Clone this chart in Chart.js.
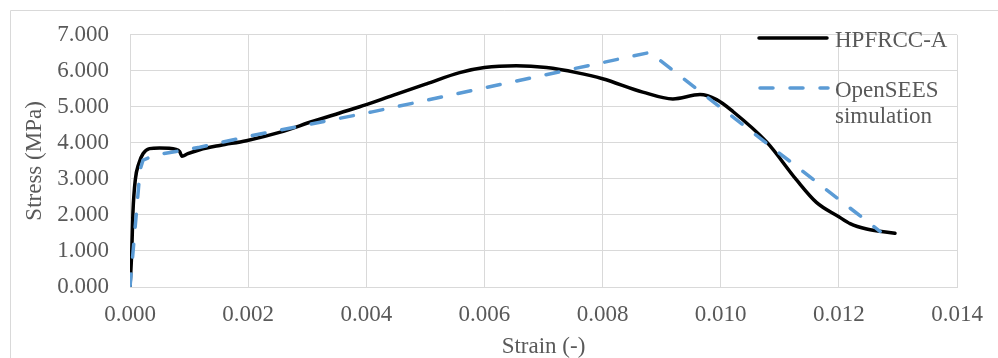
<!DOCTYPE html>
<html>
<head>
<meta charset="utf-8">
<script src="https://cdn.jsdelivr.net/npm/chart.js@4/dist/chart.umd.min.js"></script>
<style>
  html, body { margin: 0; padding: 0; background: #ffffff; }
  #wrap { width: 998px; height: 358px; position: relative; }
</style>
</head>
<body>
<div id="wrap"><canvas id="c" width="998" height="358"></canvas></div>
<script>
// ---- Data ----
const seriesNames = ["HPFRCC-A", "OpenSEES simulation"];

const testStrain = [0, 0.00003, 0.00005, 0.00009, 0.00015, 0.00022, 0.00033, 0.0005, 0.00078, 0.00084,
  0.00088, 0.00098, 0.00118, 0.00152, 0.00197, 0.00253, 0.0031, 0.00355, 0.0040, 0.00445,
  0.00502, 0.00558, 0.0060, 0.00654, 0.00705, 0.00756, 0.0080, 0.00868, 0.00919, 0.00965,
  0.00993, 0.0102, 0.01078, 0.01128, 0.01162, 0.012, 0.01219, 0.01247, 0.01295];
const testStress = [0, 1.0, 2.08, 2.98, 3.43, 3.70, 3.84, 3.86, 3.82, 3.76,
  3.63, 3.70, 3.81, 3.93, 4.06, 4.29, 4.60, 4.83, 5.06, 5.32,
  5.64, 5.95, 6.09, 6.14, 6.09, 5.95, 5.78, 5.41, 5.22, 5.34,
  5.20, 4.88, 4.02, 2.98, 2.35, 1.95, 1.76, 1.61, 1.49];

const simStrain = [0, 0.0001, 0.00017, 0.00022, 0.00042, 0.00078, 0.00118, 0.002, 0.0041, 0.0088, 0.0127];
const simStress = [0, 1.9, 3.25, 3.52, 3.66, 3.76, 3.88, 4.18, 4.86, 6.51, 1.54];

const xTicks = [0, 0.002, 0.004, 0.006, 0.008, 0.010, 0.012, 0.014];
const yTicks = [0, 1, 2, 3, 4, 5, 6, 7];

const xTitle = "Strain (-)";
const yTitle = "Stress (MPa)";

// ---- Chart ----
const TEXT = "#595959";
const GRID = "#d9d9d9";
const FONT = "'Liberation Serif', 'Times New Roman', serif";

const toPts = (xs, ys) => xs.map((x, i) => ({ x: x, y: ys[i] }));

const frame = {
  id: 'frame',
  beforeDraw(chart) {
    const ctx = chart.ctx;
    ctx.save();
    ctx.strokeStyle = GRID;
    ctx.lineWidth = 1;
    ctx.beginPath();
    ctx.moveTo(10.5, 358);
    ctx.lineTo(10.5, 10.5);
    ctx.lineTo(998, 10.5);
    ctx.stroke();
    ctx.restore();
  }
};

const legendPlugin = {
  id: 'customLegend',
  afterDraw(chart) {
    const ctx = chart.ctx;
    const ds = chart.data.datasets;
    ctx.save();
    ctx.lineCap = 'round';
    ctx.strokeStyle = ds[0].borderColor;
    ctx.lineWidth = ds[0].borderWidth;
    ctx.setLineDash([]);
    ctx.beginPath(); ctx.moveTo(759, 38); ctx.lineTo(827, 38); ctx.stroke();
    ctx.strokeStyle = ds[1].borderColor;
    ctx.lineWidth = ds[1].borderWidth;
    ctx.setLineDash(ds[1].borderDash);
    ctx.beginPath(); ctx.moveTo(760, 88); ctx.lineTo(828, 88); ctx.stroke();
    ctx.setLineDash([]);
    ctx.fillStyle = TEXT;
    ctx.font = "23px " + FONT;
    ctx.textAlign = 'left';
    ctx.textBaseline = 'alphabetic';
    ctx.fillText(ds[0].label, 835, 46.5);
    const parts = ds[1].label.split(' ');
    ctx.fillText(parts[0], 835, 96.5);
    ctx.fillText(parts.slice(1).join(' '), 835, 123);
    ctx.restore();
  }
};

new Chart(document.getElementById('c'), {
  type: 'scatter',
  data: {
    datasets: [
      {
        label: seriesNames[0],
        data: toPts(testStrain, testStress),
        showLine: true,
        borderColor: '#000000',
        backgroundColor: '#000000',
        borderWidth: 3.5,
        borderCapStyle: 'round',
        borderJoinStyle: 'round',
        pointRadius: 0,
        cubicInterpolationMode: 'monotone',
        order: 2
      },
      {
        label: seriesNames[1],
        data: toPts(simStrain, simStress),
        showLine: true,
        borderColor: '#5b9bd5',
        backgroundColor: '#5b9bd5',
        borderWidth: 3.5,
        borderDash: [13, 17],
        borderCapStyle: 'round',
        pointRadius: 0,
        tension: 0,
        order: 1
      }
    ]
  },
  options: {
    responsive: false,
    animation: false,
    devicePixelRatio: 1,
    layout: { padding: { left: 0, top: 28, right: 41, bottom: 0 } },
    plugins: {
      legend: { display: false },
      tooltip: { enabled: false },
      title: { display: false }
    },
    scales: {
      x: {
        type: 'linear',
        min: xTicks[0],
        max: xTicks[xTicks.length - 1],
        afterBuildTicks(scale) { scale.ticks = xTicks.map(v => ({ value: v })); },
        afterFit(scale) { scale.height = 71; },
        grid: { color: GRID, lineWidth: 1, drawTicks: false },
        border: { display: true, color: GRID, width: 1 },
        ticks: {
          padding: 14,
          color: TEXT,
          font: { family: FONT, size: 23, lineHeight: 1.2 },
          maxRotation: 0,
          callback: v => Number(v).toFixed(3)
        },
        title: {
          display: true,
          text: xTitle,
          color: TEXT,
          font: { family: FONT, size: 23, lineHeight: 1 },
          padding: { top: 0, bottom: 0 }
        }
      },
      y: {
        type: 'linear',
        min: yTicks[0],
        max: yTicks[yTicks.length - 1],
        afterBuildTicks(scale) { scale.ticks = yTicks.map(v => ({ value: v })); },
        afterFit(scale) { scale.width = 130; },
        grid: { color: GRID, lineWidth: 1, drawTicks: false },
        border: { display: true, color: GRID, width: 1 },
        ticks: {
          padding: 21,
          color: TEXT,
          font: { family: FONT, size: 23, lineHeight: 1.2 },
          callback: v => Number(v).toFixed(3)
        },
        title: {
          display: true,
          text: yTitle,
          color: TEXT,
          font: { family: FONT, size: 23, lineHeight: 1.2 },
          padding: { top: 21, bottom: 0 }
        }
      }
    }
  },
  plugins: [frame, legendPlugin]
});
</script>
</body>
</html>
